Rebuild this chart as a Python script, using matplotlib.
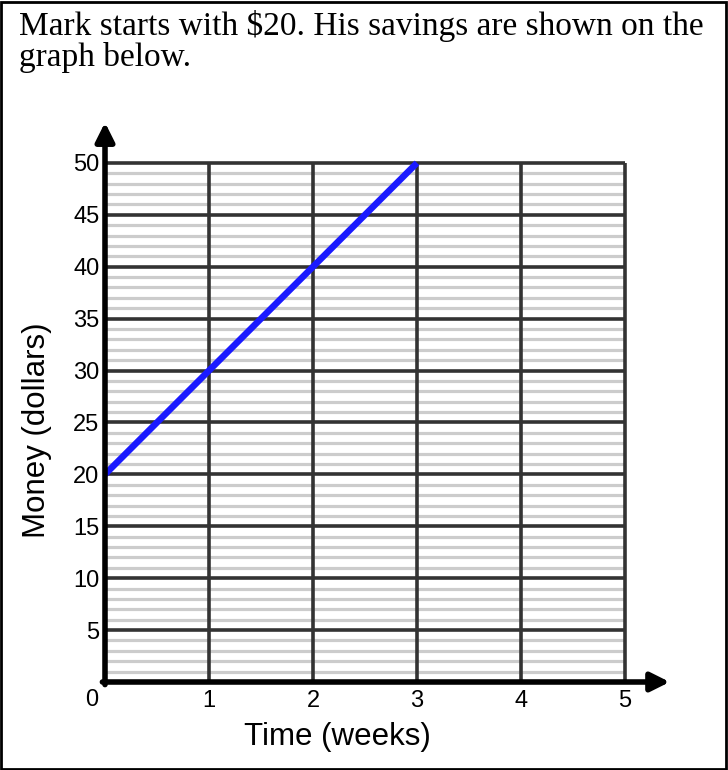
import numpy as np
import matplotlib.pyplot as plt
from matplotlib.patches import Rectangle

# data
weeks = [0, 1, 2, 3]
money = [20, 30, 40, 50]
x_ticks = [1, 2, 3, 4, 5]
y_ticks = [5, 10, 15, 20, 25, 30, 35, 40, 45, 50]
minor_y = [v for v in range(1, 50) if v % 5 != 0]

W, H = 728, 770
fig = plt.figure(figsize=(W / 100, H / 100), dpi=100)

# axes placed so that x=0..5 -> 105..625 px, y=0..50 -> 682..163 px
ax = fig.add_axes([105 / W, 88 / H, 572 / W, 571 / H])
ax.set_xlim(0, 5.5)
ax.set_ylim(0, 55)
for s in ax.spines.values():
    s.set_visible(False)

# grey minor lines
ax.hlines(minor_y, 0, 5, color='#cccccc', lw=2.3, zorder=1)
# major grid
ax.hlines(y_ticks, 0, 5, color='#333333', lw=2.6, zorder=2)
ax.vlines(x_ticks, 0, 50, color='#333333', lw=2.6, zorder=2)

# data line
ax.plot(weeks, money, color='#1a1aff', lw=4.7, solid_capstyle='butt', zorder=4, clip_on=False)

# axes with arrows
arrow = dict(arrowstyle='-|>', lw=4, color='black', mutation_scale=28, shrinkA=0, shrinkB=0)
ax.annotate('', xy=(0, 53.9), xytext=(0, -0.25), arrowprops=arrow, zorder=5, annotation_clip=False)
ax.annotate('', xy=(5.43, 0), xytext=(-0.025, 0), arrowprops=arrow, zorder=5, annotation_clip=False)

tick_font = dict(fontsize=17, fontfamily='Liberation Sans')
ax.set_xticks(x_ticks)
ax.set_xticklabels([str(v) for v in x_ticks], **tick_font)
ax.set_yticks(y_ticks)
ax.set_yticklabels([str(v) for v in y_ticks], **tick_font)
ax.tick_params(axis='x', length=0, pad=6)
ax.tick_params(axis='y', length=0, pad=4)
ax.text(-0.125, -1.75, '0', ha='center', va='center', **tick_font)

fig.text(37 / W, 1 - 430 / H, 'Money (dollars)', rotation=90, ha='center', va='center',
         fontsize=22.5, family='Liberation Sans')
fig.text(337 / W, 1 - 737 / H, 'Time (weeks)', ha='center', va='center',
         fontsize=22.5, family='Liberation Sans')

fig.text(19 / W, 1 - 10 / H, 'Mark starts with $20. His savings are shown on the\ngraph below.',
         ha='left', va='top', fontsize=24, family='Liberation Serif', linespacing=1.0)

fig.patches.append(Rectangle((1 / W, 1 / H), (W - 3) / W, (H - 3) / H, transform=fig.transFigure,
                             fill=False, lw=2, edgecolor='black'))

fig.savefig('out.png', dpi=100)
